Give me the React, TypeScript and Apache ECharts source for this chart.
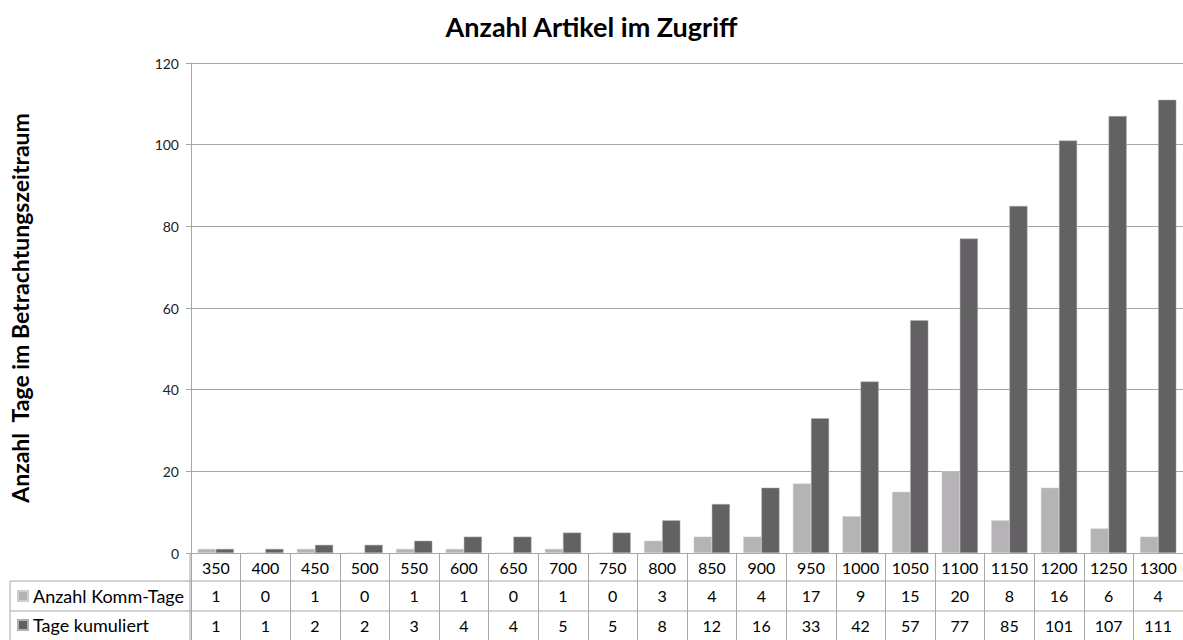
import React, { useEffect, useRef } from "react";
import * as echarts from "echarts";

const categories = ["350","400","450","500","550","600","650","700","750","800","850","900","950","1000","1050","1100","1150","1200","1250","1300"];
const kommTage = [1,0,1,0,1,1,0,1,0,3,4,4,17,9,15,20,8,16,6,4];
const kumuliert = [1,1,2,2,3,4,4,5,5,8,12,16,33,42,57,77,85,101,107,111];
const seriesNames = ["Anzahl Komm-Tage", "Tage kumuliert"];
const yTicks = { min: 0, max: 120, interval: 20 };

const FONT = "Lato, 'Open Sans', sans-serif";
const LIGHT = "#b5b3b6";
const DARK = "#636163";
const LINE = "#a6a6a6";

export default function App() {
  const ref = useRef<HTMLDivElement>(null);
  useEffect(() => {
    if (!ref.current) return;
    const chart = echarts.init(ref.current, undefined, { renderer: "svg" });
    const gridLeft = 190, gridTop = 63, gridBottomY = 553, H = 640, W = 1183;
    const row1 = 581, row2 = 611;
    const cellLabel = { interval: 0, margin: 6, fontFamily: FONT, fontSize: 16, color: "#000" };
    chart.setOption({
      animation: false,
      backgroundColor: "#fff",
      textStyle: { fontFamily: FONT },
      title: {
        text: "Anzahl Artikel im Zugriff",
        left: "center",
        top: 8,
        textStyle: { fontFamily: FONT, fontSize: 27, fontWeight: "bold", color: "#000" },
      },
      legend: {
        orient: "vertical",
        left: 17,
        top: row1 + 6,
        padding: 0,
        itemWidth: 10,
        itemHeight: 10,
        itemGap: 11,
        icon: "rect",
        textStyle: { fontFamily: FONT, fontSize: 18, color: "#000", padding: [0, 0, 0, 0] },
        data: seriesNames,
      },
      grid: { left: gridLeft, right: 0, top: gridTop, bottom: H - gridBottomY, containLabel: false },
      xAxis: [
        {
          type: "category",
          data: categories,
          position: "bottom",
          axisLine: { show: true, lineStyle: { color: LINE } },
          axisTick: { show: true, interval: 0, length: H - gridBottomY, lineStyle: { color: LINE } },
          axisLabel: cellLabel,
        },
        {
          type: "category",
          data: categories,
          position: "bottom",
          offset: row1 - gridBottomY,
          axisLine: { show: false },
          axisTick: { show: false },
          axisLabel: { ...cellLabel, formatter: (_v: string, i: number) => String(kommTage[i]) },
        },
        {
          type: "category",
          data: categories,
          position: "bottom",
          offset: row2 - gridBottomY,
          axisLine: { show: false },
          axisTick: { show: false },
          axisLabel: { ...cellLabel, formatter: (_v: string, i: number) => String(kumuliert[i]) },
        },
      ],
      yAxis: {
        type: "value",
        min: yTicks.min,
        max: yTicks.max,
        interval: yTicks.interval,
        name: "Anzahl  Tage im Betrachtungszeitraum",
        nameLocation: "middle",
        nameGap: 160,
        nameRotate: 90,
        nameTextStyle: { fontFamily: FONT, fontSize: 23, fontWeight: "bold", color: "#000" },
        axisLine: { show: true, lineStyle: { color: LINE } },
        axisTick: { show: true, length: 5, lineStyle: { color: LINE } },
        axisLabel: { fontFamily: FONT, fontSize: 14, color: "#222", margin: 12 },
        splitLine: { show: true, lineStyle: { color: LINE } },
      },
      series: [
        {
          name: seriesNames[0],
          type: "bar",
          data: kommTage,
          barGap: "0%",
          barCategoryGap: "27%",
          itemStyle: { color: LIGHT, borderColor: "#d0d0d0", borderWidth: 0.5 },
        },
        {
          name: seriesNames[1],
          type: "bar",
          data: kumuliert,
          itemStyle: { color: DARK, borderColor: "#b0b0b0", borderWidth: 0.5 },
        },
      ],
      graphic: [
        { type: "line", shape: { x1: 10, y1: row1, x2: W, y2: row1 }, style: { stroke: LINE, lineWidth: 1 } },
        { type: "line", shape: { x1: 10, y1: row2, x2: W, y2: row2 }, style: { stroke: LINE, lineWidth: 1 } },
        { type: "line", shape: { x1: 10, y1: row1, x2: 10, y2: H }, style: { stroke: LINE, lineWidth: 1 } },
        { type: "line", shape: { x1: gridLeft, y1: gridBottomY, x2: gridLeft, y2: H }, style: { stroke: LINE, lineWidth: 1 } },
      ],
    });
    return () => chart.dispose();
  }, []);
  return <div ref={ref} style={{ position: "fixed", left: 0, top: 0, width: 1183, height: 640 }} />;
}
